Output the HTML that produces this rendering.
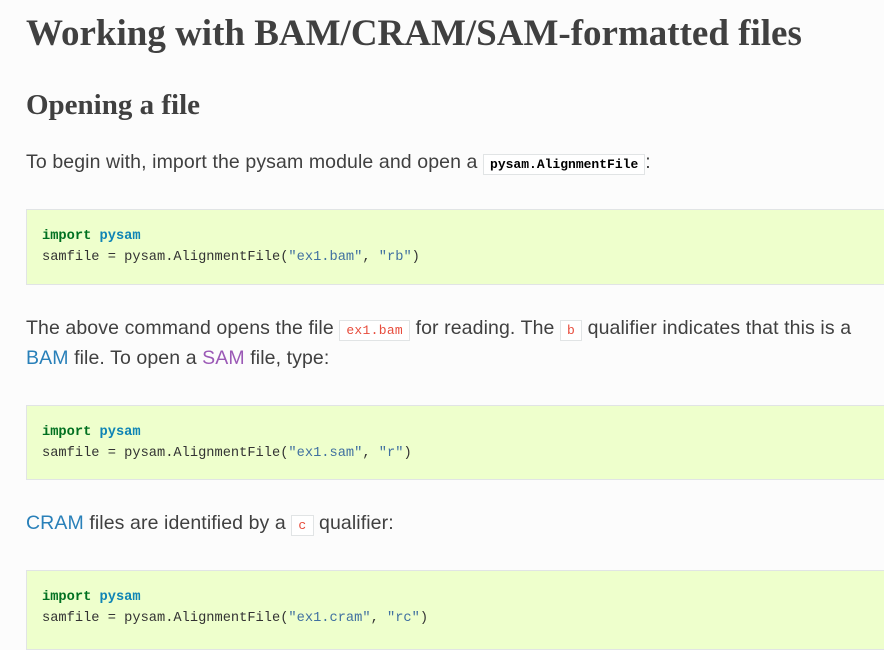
<!DOCTYPE html>
<html><head><meta charset="utf-8"><style>
body{margin:0;width:884px;height:639px;overflow:hidden;background:#fcfcfc;color:#404040;font-family:"Liberation Sans",sans-serif;position:relative}
.a{position:absolute;white-space:nowrap}
h1,h2{margin:0;font-family:"Liberation Serif",serif;font-weight:bold;color:#404040}
.p{font-size:19.5px;line-height:30px;letter-spacing:0.1px}
.pre{position:absolute;left:26px;width:880px;background:#eeffcc;border:1px solid #e1e4e5;box-sizing:border-box}
.pre div{position:absolute;left:15px;font-family:"Liberation Mono",monospace;font-size:13.7px;line-height:21px;color:#333;white-space:pre}
.k{color:#007020;font-weight:bold}.n{color:#0e84b5;font-weight:bold}.s{color:#4070a0}
code{font-family:"Liberation Mono",monospace;font-size:13px;background:#fff;border:1px solid #e1e4e5;padding:2px 6px;color:#e74c3c;letter-spacing:0.3px}
code.b{color:#000;font-weight:bold;font-size:13px;letter-spacing:0}
.l{color:#2980b9}.v{color:#9b59b6}
</style></head><body>
<h1 class="a" style="left:26px;top:12px;font-size:37px;line-height:44px">Working with BAM/CRAM/SAM-formatted files</h1>
<h2 class="a" style="left:26px;top:87px;font-size:29px;line-height:36px">Opening a file</h2>
<div class="a p" style="left:26px;top:147px">To begin with, import the pysam module and open a <code class="b">pysam.AlignmentFile</code>:</div>
<div class="pre" style="top:209px;height:76px"><div style="top:16px"><span class="k">import</span> <span class="n">pysam</span>
samfile = pysam.AlignmentFile(<span class="s">"ex1.bam"</span>, <span class="s">"rb"</span>)</div></div>
<div class="a p" style="left:26px;top:313px">The above command opens the file <code>ex1.bam</code> for reading. The <code>b</code> qualifier indicates that this is a</div>
<div class="a p" style="left:26px;top:343px"><span class="l">BAM</span> file. To open a <span class="v">SAM</span> file, type:</div>
<div class="pre" style="top:405px;height:75px"><div style="top:16px"><span class="k">import</span> <span class="n">pysam</span>
samfile = pysam.AlignmentFile(<span class="s">"ex1.sam"</span>, <span class="s">"r"</span>)</div></div>
<div class="a p" style="left:26px;top:508px"><span class="l">CRAM</span> files are identified by a <code>c</code> qualifier:</div>
<div class="pre" style="top:570px;height:80px"><div style="top:16px"><span class="k">import</span> <span class="n">pysam</span>
samfile = pysam.AlignmentFile(<span class="s">"ex1.cram"</span>, <span class="s">"rc"</span>)</div></div>
</body></html>
